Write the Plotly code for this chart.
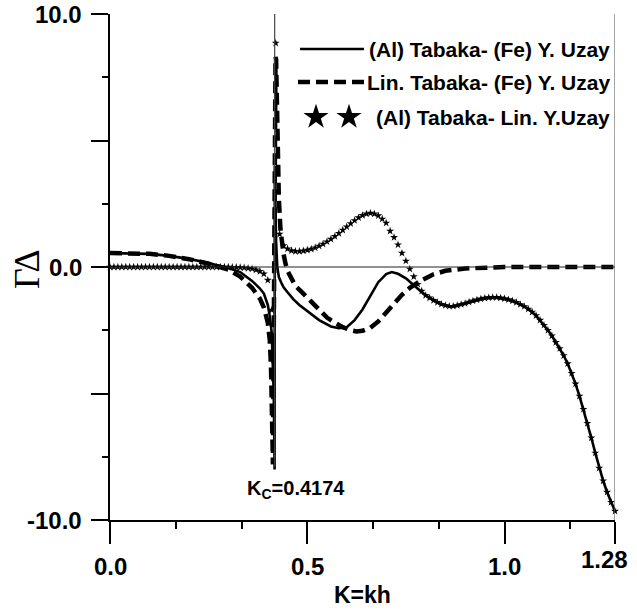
import numpy as np
import plotly.graph_objects as go

# ---------------------------------------------------------------- data
KC = 0.4174

# (Al) Tabaka- Lin. Y.Uzay : sampled every 0.01 on K = 0 ... 1.28
K_STAR = np.round(np.linspace(0.0, 1.28, 129), 2)
G_STAR = [
    0.0, 0.0, 0.0, 0.0, 0.0, 0.0, 0.0, 0.0, 0.0, 0.0,          # 0.00-0.09
    0.0, 0.0, 0.0, 0.0, 0.0, 0.0, 0.0, 0.0, 0.0, 0.0,          # 0.10-0.19
    0.0, 0.0, 0.0, 0.0, 0.0, 0.0, 0.0, 0.0, 0.0, 0.0,          # 0.20-0.29
    0.0, -0.01, -0.01, -0.02, -0.03, -0.05, -0.07, -0.11, -0.17, -0.27,   # 0.30-0.39
    -0.52, -1.7, 8.85, 1.3, 0.85, 0.72, 0.65, 0.62, 0.62, 0.64,         # 0.40-0.49
    0.67, 0.71, 0.76, 0.83, 0.91, 1.0, 1.1, 1.21, 1.33, 1.46,           # 0.50-0.59
    1.59, 1.72, 1.84, 1.95, 2.04, 2.1, 2.13, 2.1, 2.03, 1.9,            # 0.60-0.69
    1.74, 1.42, 1.17, 0.88, 0.55, 0.24, -0.08, -0.38, -0.68, -0.95,     # 0.70-0.79
    -1.12, -1.22, -1.32, -1.4, -1.47, -1.52, -1.55, -1.55, -1.52, -1.48,  # 0.80-0.89
    -1.44, -1.39, -1.34, -1.3, -1.26, -1.23, -1.21, -1.2, -1.2, -1.22,    # 0.90-0.99
    -1.25, -1.29, -1.34, -1.4, -1.48, -1.56, -1.66, -1.78, -1.92, -2.1,   # 1.00-1.09
    -2.3, -2.5, -2.72, -2.98, -3.22, -3.5, -3.82, -4.2, -4.62, -5.1,      # 1.10-1.19
    -5.62, -6.18, -6.75, -7.35, -7.95, -8.45, -8.9, -9.3, -9.65,          # 1.20-1.28
]

# (Al) Tabaka- (Fe) Y. Uzay : solid curve
K_SOLID = [0.00, 0.05, 0.10, 0.15, 0.20, 0.25, 0.28, 0.30, 0.33, 0.36,
           0.38, 0.39, 0.40, 0.405, 0.41, 0.413, 0.415, 0.4165, 0.4172, 0.4176,
           0.419, 0.421, 0.424, 0.428, 0.435, 0.44, 0.45, 0.465, 0.48, 0.50,
           0.53, 0.56, 0.58, 0.60, 0.62, 0.64, 0.66, 0.68, 0.70, 0.714,
           0.73, 0.75, 0.77, 0.78,
           0.79, 0.80, 0.81, 0.82, 0.83, 0.84, 0.85, 0.86, 0.87, 0.88, 0.89,
           0.90, 0.91, 0.92, 0.93, 0.94, 0.95, 0.96, 0.97, 0.98, 0.99,
           1.00, 1.01, 1.02, 1.03, 1.04, 1.05, 1.06, 1.07, 1.08, 1.09,
           1.10, 1.11, 1.12, 1.13, 1.14, 1.15, 1.16, 1.17, 1.18, 1.19,
           1.20, 1.21, 1.22, 1.23, 1.24, 1.25, 1.26, 1.27, 1.28]
G_SOLID = [0.55, 0.55, 0.52, 0.44, 0.32, 0.16, 0.05, -0.04, -0.2, -0.55,
           -0.85, -1.05, -1.5, -1.95, -2.6, -3.8, -5.0, -7.0, -8.0, 4.0,
           2.2, 1.0, 0.0, -0.4, -0.65, -0.8, -1.0, -1.28, -1.5, -1.75,
           -2.1, -2.35, -2.42, -2.38, -2.1, -1.68, -1.15, -0.6, -0.28, -0.2,
           -0.27, -0.45, -0.72, -0.86,
           -0.98, -1.12, -1.22, -1.32, -1.4, -1.47, -1.52, -1.55, -1.55, -1.52, -1.48,
           -1.44, -1.39, -1.34, -1.3, -1.26, -1.23, -1.21, -1.2, -1.2, -1.22,
           -1.25, -1.29, -1.34, -1.4, -1.48, -1.56, -1.66, -1.78, -1.92, -2.1,
           -2.3, -2.5, -2.72, -2.98, -3.22, -3.5, -3.82, -4.2, -4.62, -5.1,
           -5.62, -6.18, -6.75, -7.35, -7.95, -8.45, -8.9, -9.3, -9.65]

# Lin. Tabaka- (Fe) Y. Uzay : dashed curve
K_DASH = [0.00, 0.05, 0.10, 0.15, 0.20, 0.25, 0.28, 0.30, 0.33, 0.36,
          0.38, 0.39, 0.40, 0.405, 0.408, 0.41, 0.412, 0.413, 0.4195, 0.421,
          0.423, 0.425, 0.428, 0.432, 0.436, 0.44, 0.445, 0.45, 0.46, 0.47,
          0.49, 0.51, 0.53, 0.55, 0.57, 0.59, 0.61, 0.625, 0.64, 0.66,
          0.68, 0.70, 0.72, 0.74, 0.76, 0.79, 0.82, 0.85, 0.90, 0.95,
          1.00, 1.10, 1.20, 1.28]
G_DASH = [0.55, 0.55, 0.52, 0.44, 0.31, 0.13, 0.01, -0.1, -0.38, -0.82,
          -1.25, -1.6, -2.2, -2.9, -3.9, -5.3, -6.9, -7.8, 8.3, 8.2,
          6.6, 4.6, 2.7, 1.5, 0.9, 0.5, 0.12, -0.15, -0.45, -0.75,
          -1.05, -1.35, -1.7, -2.0, -2.2, -2.38, -2.5, -2.55, -2.52, -2.4,
          -2.15, -1.8, -1.45, -1.1, -0.82, -0.52, -0.29, -0.15, -0.06, -0.02,
          0.0, 0.0, 0.0, 0.0]

SERIES_NAMES = ["(Al) Tabaka- (Fe) Y. Uzay",
                "Lin. Tabaka- (Fe) Y. Uzay",
                "(Al) Tabaka- Lin. Y.Uzay"]

X_TICKS = [0.0, 0.5, 1.0, 1.28]
X_TICK_TEXT = ["0.0", "0.5", "1.0", "1.28"]
X_MINOR = [1 / 6, 2 / 6, 4 / 6, 5 / 6, 7 / 6]
Y_TICKS = [-10, -5, 0, 5, 10]
Y_MINOR = [-7.5, -2.5, 2.5, 7.5]
Y_LABELED = [10, 0, -10]
Y_TICK_TEXT = ["10.0", "0.0", "-10.0"]

# ---------------------------------------------------------------- styling
SANS = "Liberation Sans, Arial, sans-serif"
SERIF = "Liberation Serif, Times New Roman, serif"
W, H = 637, 610
L, R, T, B = 110, 22, 14, 90
PW, PH = W - L - R, H - T - B


def px(xp):
    return (xp - L) / PW


def py(yp):
    return (H - B - yp) / PH


fig = go.Figure()

fig.add_trace(go.Scatter(
    x=K_SOLID, y=G_SOLID, mode="lines", name=SERIES_NAMES[0],
    line=dict(color="black", width=2.6), showlegend=False, cliponaxis=False))
fig.add_trace(go.Scatter(
    x=K_DASH, y=G_DASH, mode="lines", name=SERIES_NAMES[1],
    line=dict(color="black", width=4.5, dash="12px,6px"), showlegend=False,
    cliponaxis=False))
fig.add_trace(go.Scatter(
    x=K_STAR, y=G_STAR, mode="markers", name=SERIES_NAMES[2],
    marker=dict(symbol="star", size=6, color="black", line=dict(width=0)),
    showlegend=False, cliponaxis=False))

# legend key for the star series, on a pixel-scaled overlay axis
ROW_Y = [49, 82, 117]
fig.add_trace(go.Scatter(
    x=[316, 349], y=[ROW_Y[2], ROW_Y[2]], xaxis="x2", yaxis="y2",
    mode="markers", marker=dict(symbol="star", size=19, color="black",
                                line=dict(width=0)),
    showlegend=False, hoverinfo="skip", cliponaxis=False))

# reference lines: zero level, critical wavenumber, right border
fig.add_shape(type="line", xref="x", yref="y", x0=0, x1=1.28, y0=0, y1=0,
              line=dict(color="#222222", width=1))
fig.add_shape(type="line", xref="x", yref="y", x0=KC, x1=KC, y0=-7.9, y1=10,
              line=dict(color="#444444", width=1.2))
fig.add_shape(type="line", xref="x", yref="y", x0=1.28, x1=1.28, y0=-10, y1=10,
              line=dict(color="#666666", width=1.2))

# legend keys for the line series
fig.add_shape(type="line", xref="paper", yref="paper",
              x0=px(300), x1=px(364), y0=py(ROW_Y[0]), y1=py(ROW_Y[0]),
              line=dict(color="black", width=2.6))
fig.add_shape(type="line", xref="paper", yref="paper",
              x0=px(298), x1=px(364), y0=py(ROW_Y[1]), y1=py(ROW_Y[1]),
              line=dict(color="black", width=4.5, dash="12px,6px"))
for name, ry in zip(SERIES_NAMES, ROW_Y):
    fig.add_annotation(xref="paper", yref="paper", x=px(612), y=py(ry),
                       text=name, showarrow=False, xanchor="right", yanchor="middle",
                       font=dict(family=SANS, size=21, color="black", weight="bold"))

# K_C label
fig.add_annotation(xref="paper", yref="paper", x=px(245), y=py(489),
                   text="K<sub>C</sub>=0.4174", showarrow=False,
                   xanchor="left", yanchor="middle",
                   font=dict(family=SANS, size=20, color="black", weight="bold"))

# tick labels
tick_font = dict(family=SANS, size=24, color="black", weight="bold")
for v, txt in zip(Y_LABELED, Y_TICK_TEXT):
    fig.add_annotation(xref="paper", yref="y", x=px(84), y=v, text=txt,
                       showarrow=False, xanchor="right", yanchor="middle",
                       font=tick_font)
for v, txt in zip(X_TICKS, X_TICK_TEXT):
    last = v == X_TICKS[-1]
    fig.add_annotation(xref="x", yref="paper", x=v, y=py(559 if last else 566),
                       xshift=-11 if last else 0, text=txt,
                       showarrow=False, xanchor="center", yanchor="middle",
                       font=tick_font)

# axis titles
fig.add_annotation(xref="paper", yref="paper", x=0.5, y=py(595),
                   text="K=kh", showarrow=False, xanchor="center", yanchor="middle",
                   font=dict(family=SANS, size=23, color="black", weight="bold"))
fig.add_annotation(xref="paper", yref="paper", x=px(27), y=py(269),
                   text="ΓΔ", showarrow=False, textangle=-90,
                   xanchor="center", yanchor="middle",
                   font=dict(family=SERIF, size=36, color="black"))

fig.update_xaxes(
    range=[0, 1.28], showline=True, linewidth=2, linecolor="black",
    showgrid=False, zeroline=False, automargin=False,
    ticks="outside", ticklen=22, tickwidth=2, tickcolor="black",
    tickmode="array", tickvals=X_TICKS, showticklabels=False,
    minor=dict(tickmode="array", tickvals=X_MINOR, ticks="outside",
               ticklen=7, tickwidth=2, tickcolor="black", showgrid=False),
)
fig.update_yaxes(
    range=[-10, 10], showline=True, linewidth=2, linecolor="black",
    showgrid=False, zeroline=False, automargin=False,
    ticks="outside", ticklen=17, tickwidth=2, tickcolor="black",
    tickmode="array", tickvals=Y_TICKS, showticklabels=False,
    minor=dict(tickmode="array", tickvals=Y_MINOR, ticks="outside",
               ticklen=6, tickwidth=2, tickcolor="black", showgrid=False),
)

fig.update_layout(
    width=W, height=H, autosize=False,
    margin=dict(l=L, r=R, t=T, b=B, pad=0),
    paper_bgcolor="white", plot_bgcolor="white",
    showlegend=False,
    xaxis2=dict(overlaying="x", range=[L, W - R], visible=False, fixedrange=True),
    yaxis2=dict(overlaying="y", range=[H - B, T], visible=False, fixedrange=True),
)

fig.write_html("out.html")
